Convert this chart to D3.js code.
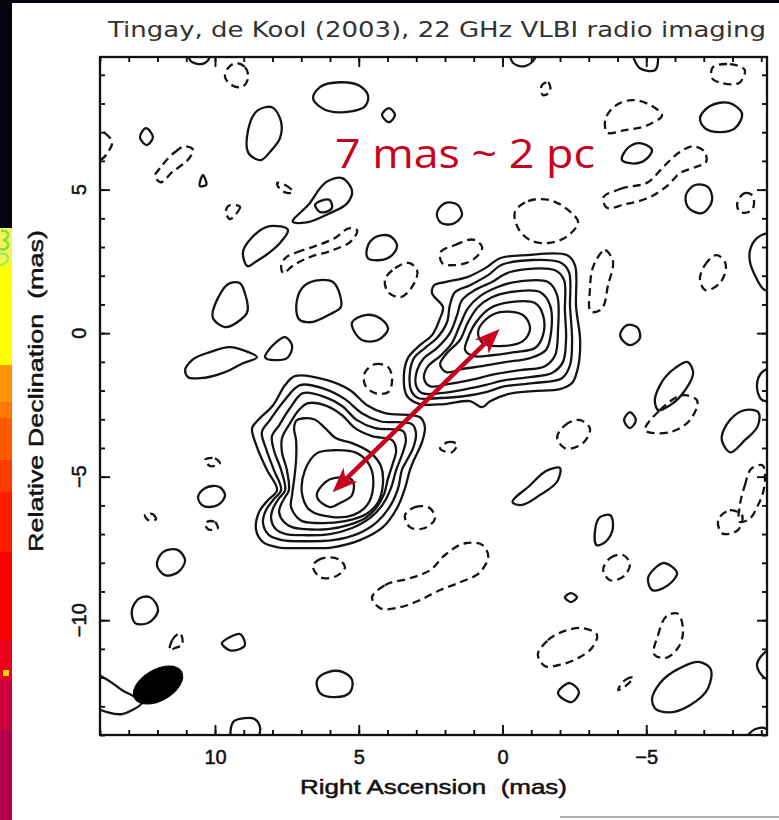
<!DOCTYPE html>
<html><head><meta charset="utf-8">
<script src="https://cdn.jsdelivr.net/npm/d3@7"></script>
<style>body{margin:0;background:#fff;}svg{display:block}</style>
</head><body><svg id="c" width="779" height="820"></svg>
<script>
// ---------- data (mas) ----------
const raDomain = [14.0, -9.2];
const decDomain = [-14.0, 9.62];
const xMajorTicks = [10, 5, 0, -5];
const xMajorLabels = ["10", "5", "0", "\u22125"];
const yMajorTicks = [5, 0, -5, -10];
const yMajorLabels = ["5", "0", "\u22125", "\u221210"];
const xMinorTicks = [14,13,12,11,10,9,8,7,6,5,4,3,2,1,0,-1,-2,-3,-4,-5,-6,-7,-8,-9];
const yMinorTicks = [9,8,7,6,5,4,3,2,1,0,-1,-2,-3,-4,-5,-6,-7,-8,-9,-10,-11,-12,-13,-14];

const titleText = "Tingay, de Kool (2003), 22 GHz VLBI radio imaging";
const scaleText = "7 mas ~ 2 pc";
const xTitle = "Right Ascension  (mas)";
const yTitle = "Relative Declination  (mas)";

// north-east (core) component, outer -> inner
const neCore = [
 [[0.09,2.61],[-0.85,2.72],[-2.24,2.72],[-2.52,2.37],[-2.56,0.91],[-2.70,-0.24],[-2.63,-1.18],[-2.42,-1.74],[-2.00,-1.95],[-1.06,-2.02],[-0.16,-2.13],[0.43,-2.37],[0.71,-2.58],[1.13,-2.37],[2.00,-2.47],[2.87,-2.47],[3.32,-2.19],[3.43,-1.46],[3.29,-0.87],[2.87,-0.42],[2.45,-0.07],[2.17,0.52],[2.07,0.91],[2.45,1.39],[2.38,1.67],[2.00,1.78],[1.23,1.95],[0.54,2.30]],
 [[-0.02,2.40],[-2.00,2.47],[-2.31,2.13],[-2.35,0.91],[-2.42,-0.24],[-2.35,-1.11],[-2.07,-1.57],[-1.06,-1.74],[-0.09,-1.85],[0.61,-2.06],[1.30,-2.19],[2.17,-2.26],[2.94,-2.26],[3.18,-1.99],[3.22,-1.36],[3.08,-0.87],[2.70,-0.52],[2.28,-0.17],[1.93,0.38],[1.83,0.98],[1.65,1.43],[1.13,1.67],[0.50,2.02]],
 [[-0.26,2.13],[-1.83,2.19],[-2.14,1.85],[-2.17,0.80],[-2.21,-0.24],[-2.10,-1.01],[-1.72,-1.39],[-0.96,-1.53],[-0.09,-1.64],[0.61,-1.81],[1.48,-1.99],[2.17,-2.09],[2.80,-2.09],[3.01,-1.81],[2.97,-1.29],[2.73,-0.87],[2.28,-0.52],[1.83,0.00],[1.58,0.63],[1.41,1.15],[0.96,1.50],[0.37,1.78]],
 [[-0.43,1.78],[-1.58,1.78],[-1.90,1.32],[-1.93,0.10],[-1.83,-0.77],[-1.48,-1.15],[-0.61,-1.29],[0.26,-1.43],[1.13,-1.64],[1.90,-1.78],[2.52,-1.85],[2.73,-1.57],[2.59,-1.15],[2.17,-0.80],[1.76,-0.35],[1.48,0.28],[1.20,0.87],[0.78,1.29],[0.19,1.60]],
 [[-0.26,1.43],[-1.30,1.43],[-1.65,0.98],[-1.69,0.03],[-1.51,-0.59],[-0.96,-0.87],[-0.09,-1.01],[0.71,-1.15],[1.41,-1.25],[1.96,-1.36],[2.17,-1.08],[1.90,-0.66],[1.48,-0.24],[1.20,0.38],[0.85,0.91],[0.37,1.25]],
 [[-0.26,1.08],[-1.13,1.05],[-1.41,0.63],[-1.41,-0.07],[-1.13,-0.52],[-0.43,-0.66],[0.37,-0.77],[0.99,-0.80],[1.30,-0.59],[1.20,-0.17],[0.92,0.38],[0.43,0.87]],
 [[0.09,0.73],[-0.71,0.63],[-0.96,0.17],[-0.71,-0.28],[0.09,-0.45],[0.68,-0.35],[0.85,0.03],[0.61,0.45]]
];

// south-west component, outer -> inner
const swCore = [
 [[7.22,-1.50],[6.10,-1.64],[5.30,-1.99],[4.71,-2.51],[4.09,-2.79],[2.87,-2.93],[2.70,-3.27],[2.80,-3.80],[3.08,-4.42],[3.22,-4.77],[3.39,-5.40],[3.67,-6.10],[4.16,-6.76],[4.96,-7.21],[5.90,-7.46],[6.87,-7.49],[7.81,-7.46],[8.33,-7.28],[8.57,-6.86],[8.47,-6.24],[8.16,-5.82],[7.84,-5.47],[8.19,-4.77],[8.54,-3.97],[8.71,-3.31],[8.50,-3.03],[7.98,-2.51],[7.56,-1.81]],
 [[7.04,-1.81],[6.17,-1.95],[5.48,-2.30],[4.89,-2.79],[4.26,-3.07],[3.15,-3.17],[3.01,-3.48],[3.11,-4.01],[3.36,-4.49],[3.50,-4.77],[3.63,-5.40],[3.91,-6.03],[4.37,-6.58],[5.06,-7.00],[5.90,-7.21],[6.87,-7.25],[7.67,-7.21],[8.12,-7.04],[8.33,-6.62],[8.23,-6.17],[7.95,-5.78],[7.70,-5.47],[7.95,-4.77],[8.23,-4.01],[8.37,-3.45],[8.09,-3.03],[7.63,-2.40]],
 [[6.94,-2.09],[6.17,-2.23],[5.58,-2.54],[5.06,-3.03],[4.43,-3.31],[3.46,-3.41],[3.36,-3.73],[3.50,-4.25],[3.70,-4.77],[3.88,-5.40],[4.16,-5.96],[4.57,-6.41],[5.23,-6.79],[6.00,-7.00],[6.94,-7.04],[7.53,-7.00],[7.88,-6.83],[8.05,-6.45],[7.98,-6.10],[7.77,-5.75],[7.56,-5.47],[7.70,-4.77],[7.95,-4.08],[8.02,-3.59],[7.77,-3.21],[7.39,-2.61]],
 [[6.76,-2.44],[6.10,-2.54],[5.58,-2.86],[5.13,-3.31],[4.54,-3.59],[3.84,-3.73],[3.70,-4.08],[3.81,-4.53],[3.98,-5.05],[4.12,-5.61],[4.40,-6.10],[4.78,-6.45],[5.37,-6.69],[6.07,-6.83],[6.87,-6.83],[7.32,-6.76],[7.60,-6.58],[7.77,-6.24],[7.70,-5.96],[7.56,-5.71],[7.43,-5.47],[7.50,-4.77],[7.67,-4.15],[7.67,-3.66],[7.39,-3.14],[7.08,-2.68]],
 [[7.15,-3.03],[6.56,-3.00],[6.17,-3.31],[5.79,-3.66],[5.23,-3.83],[4.61,-4.15],[4.23,-4.63],[4.16,-5.26],[4.33,-5.89],[4.75,-6.31],[5.48,-6.55],[6.28,-6.62],[6.97,-6.55],[7.18,-6.38],[7.36,-6.03],[7.32,-5.64],[7.25,-5.12],[7.18,-4.42],[7.18,-3.73],[7.25,-3.31]],
 [[6.87,-4.77],[6.45,-4.18],[5.90,-4.08],[5.06,-4.18],[4.61,-4.63],[4.50,-5.37],[4.71,-5.99],[5.20,-6.34],[5.90,-6.41],[6.70,-6.17],[6.97,-5.61]],
 [[6.45,-5.57],[6.00,-5.09],[5.23,-5.12],[5.23,-5.64],[5.65,-5.92],[6.00,-6.06],[6.42,-5.78]]
];

// isolated positive (solid) contours
const positiveIslands = [
 [[10.89,9.86],[10.87,9.51],[10.52,9.37],[10.24,9.51],[10.17,9.86]],
 [[6.35,8.57],[5.65,8.74],[4.96,8.61],[4.68,8.29],[4.75,7.94],[5.48,7.70],[6.28,7.84],[6.59,8.19]],
 [[4.19,7.60],[3.95,7.84],[3.74,7.60],[3.95,7.35]],
 [[8.50,7.77],[8.02,7.87],[7.74,7.49],[7.74,6.79],[8.09,6.31],[8.40,6.03],[8.78,6.20],[8.85,7.07]],
 [[12.61,6.83],[12.40,7.14],[12.16,6.83],[12.37,6.55]],
 [[10.42,5.50],[10.31,5.16],[10.52,5.12]],
 [[7.29,3.87],[6.76,4.46],[6.07,5.30],[5.58,5.40],[5.23,4.91],[5.37,4.56],[6.07,4.15],[6.76,3.87]],
 [[6.52,4.46],[6.00,4.63],[5.93,4.36],[6.35,4.22]],
 [[9.03,2.79],[8.71,3.34],[8.09,3.73],[7.46,3.59],[7.74,3.14],[8.09,2.82],[8.61,2.47],[8.85,2.33]],
 [[4.71,2.96],[4.43,3.34],[3.91,3.38],[3.67,3.07],[3.84,2.72],[4.33,2.54],[4.68,2.61]],
 [[7.04,0.45],[7.15,1.15],[6.87,1.67],[6.35,1.85],[5.90,1.78],[5.65,1.32],[5.62,0.91],[6.00,0.66],[6.70,0.38]],
 [[5.23,0.38],[4.78,0.63],[4.26,0.52],[3.98,0.17],[4.33,-0.24],[4.89,-0.24]],
 [[8.26,-0.84],[7.91,-0.35],[7.56,-0.14],[7.32,-0.42],[7.46,-0.84]],
 [[10.07,0.52],[9.90,1.22],[9.48,1.74],[9.13,1.74],[8.96,1.39],[8.89,0.70],[9.13,0.45],[9.65,0.21]],
 [[11.04,-1.29],[10.80,-0.94],[10.17,-0.66],[9.48,-0.49],[9.03,-0.59],[8.54,-0.84],[9.03,-1.05],[9.65,-1.36],[10.52,-1.57],[10.94,-1.53]],
 [[-0.26,9.86],[-0.37,9.41],[-0.78,9.30],[-1.13,9.58],[-1.20,9.86]],
 [[-4.54,9.86],[-4.78,9.23],[-5.30,9.16],[-5.34,9.86]],
 [[-6.87,7.49],[-7.22,7.91],[-7.91,8.01],[-8.33,7.66],[-8.09,7.14],[-7.56,7.00],[-7.04,7.14]],
 [[-4.16,6.03],[-4.36,6.45],[-4.78,6.62],[-5.20,6.38],[-4.96,6.03],[-4.43,5.92]],
 [[-6.38,4.81],[-6.70,5.16],[-7.15,5.09],[-7.29,4.63],[-6.94,4.18],[-6.45,4.39]],
 [[-8.61,2.89],[-8.85,3.31],[-9.23,3.48],[-9.65,3.41],[-9.65,1.57],[-9.13,1.50],[-8.78,2.02],[-8.61,2.47]],
 [[2.28,4.18],[2.00,4.53],[1.55,4.46],[1.41,4.11],[1.76,3.80],[2.17,3.87]],
 [[-4.09,-0.07],[-4.33,0.28],[-4.68,0.21],[-4.78,-0.17],[-4.43,-0.42]],
 [[-5.30,-2.40],[-5.48,-1.81],[-6.00,-1.22],[-6.45,-1.01],[-6.63,-1.36],[-6.35,-1.99],[-5.83,-2.51],[-5.41,-2.68]],
 [[-8.85,-1.81],[-9.03,-1.36],[-9.30,-1.22],[-9.65,-1.29],[-9.65,-2.26],[-9.03,-2.33]],
 [[-4.23,-3.03],[-4.43,-2.75],[-4.64,-3.03],[-4.43,-3.31]],
 [[-7.63,-3.73],[-7.91,-3.03],[-8.43,-2.68],[-8.89,-2.75],[-8.89,-3.21],[-8.43,-3.73],[-7.91,-4.15]],
 [[-0.37,-5.92],[-0.96,-5.30],[-1.58,-4.77],[-2.00,-4.70],[-1.93,-5.12],[-1.30,-5.64],[-0.61,-5.99]],
 [[-3.22,-6.86],[-3.39,-6.41],[-3.74,-6.34],[-3.84,-6.79],[-3.57,-7.28],[-3.29,-7.39]],
 [[10.59,-5.71],[10.35,-5.40],[9.83,-5.37],[9.65,-5.64],[9.90,-5.99],[10.45,-5.99]],
 [[12.02,-8.08],[11.81,-7.63],[11.29,-7.56],[11.04,-7.91],[11.29,-8.33],[11.74,-8.43]],
 [[-5.06,-8.54],[-5.30,-8.19],[-5.58,-8.01],[-6.07,-8.36],[-5.76,-8.78],[-5.20,-8.95]],
 [[-2.17,-9.20],[-2.38,-9.06],[-2.59,-9.20],[-2.38,-9.37]],
 [[-5.20,-12.78],[-5.48,-12.19],[-6.17,-11.67],[-6.87,-11.46],[-7.22,-11.67],[-7.15,-12.37],[-6.52,-12.96],[-5.83,-13.21],[-5.30,-13.07]],
 [[-1.93,-12.54],[-2.35,-12.19],[-2.66,-12.51],[-2.42,-12.85]],
 [[-8.85,-11.57],[-9.13,-11.12],[-9.65,-10.97],[-9.65,-12.16],[-9.13,-12.02]],
 [[-8.43,-14.18],[-8.78,-13.80],[-9.13,-13.76],[-9.37,-14.18]],
 [[12.89,-9.65],[12.61,-9.23],[12.26,-9.20],[11.98,-9.65],[12.33,-10.10],[12.78,-10.10]],
 [[9.76,-10.80],[9.48,-10.59],[9.13,-10.48],[8.96,-10.87],[9.48,-11.05]],
 [[14.35,-11.81],[13.72,-12.09],[13.23,-12.44],[12.78,-12.68],[12.54,-12.85],[12.89,-13.14],[13.23,-13.27],[13.72,-13.21],[14.35,-12.89]],
 [[6.45,-12.09],[6.07,-11.81],[5.55,-11.81],[5.23,-12.09],[5.30,-12.51],[5.83,-12.68],[6.35,-12.54]],
 [[9.41,-14.18],[9.34,-13.52],[8.96,-13.41],[8.61,-13.45],[8.43,-13.76],[8.57,-14.18]]
];

// negative (dashed) contours
const negativeIslands = [
 [[9.30,9.41],[8.96,9.27],[8.85,8.88],[9.06,8.57],[9.41,8.64],[9.65,8.92],[9.55,9.23]],
 [[11.91,5.75],[11.39,6.31],[11.04,6.51],[10.76,6.38],[10.87,6.13],[11.49,5.61],[11.91,5.26],[12.09,5.47]],
 [[7.84,5.23],[7.56,5.16],[7.29,4.91],[7.46,4.88],[7.74,5.02]],
 [[9.55,4.42],[9.13,4.39],[9.27,4.15],[9.48,3.97],[9.62,4.22]],
 [[7.56,2.61],[7.15,2.82],[6.52,3.03],[5.83,3.31],[5.30,3.66],[5.06,3.59],[5.23,3.24],[5.90,2.89],[6.70,2.65],[7.32,2.33],[7.63,2.09],[7.70,2.33]],
 [[4.09,1.85],[3.74,2.26],[3.22,2.44],[2.97,2.19],[3.11,1.67],[3.57,1.25],[3.98,1.43]],
 [[4.78,-1.36],[4.43,-1.08],[3.98,-1.18],[3.84,-1.64],[3.98,-2.06],[4.43,-2.09],[4.78,-1.81]],
 [[-1.37,8.64],[-1.58,8.74],[-1.65,8.40],[-1.41,8.29]],
 [[-7.29,9.23],[-7.91,9.37],[-8.43,9.16],[-8.26,8.74],[-7.63,8.71],[-7.29,8.88]],
 [[-3.57,7.42],[-3.91,7.91],[-4.50,8.12],[-5.20,7.91],[-5.55,7.60],[-5.06,7.25],[-4.26,7.07],[-3.63,7.00]],
 [[-3.50,4.70],[-4.09,5.02],[-5.06,5.26],[-5.65,5.85],[-6.17,6.31],[-6.63,6.51],[-7.04,6.31],[-7.08,5.96],[-6.70,5.78],[-6.17,5.57],[-5.76,5.16],[-5.13,4.74],[-4.26,4.49],[-3.60,4.39]],
 [[-8.16,4.46],[-8.43,4.88],[-8.68,4.81],[-8.68,4.29],[-8.26,4.22]],
 [[-0.43,4.22],[-0.89,4.60],[-1.65,4.63],[-2.28,4.29],[-2.63,3.87],[-2.35,3.45],[-1.58,3.14],[-0.96,3.24],[-0.54,3.66]],
 [[2.17,2.79],[1.65,3.07],[0.96,3.24],[0.71,3.00],[0.96,2.61],[1.65,2.37],[2.10,2.44]],
 [[-3.22,2.47],[-3.57,2.89],[-3.81,2.61],[-3.67,1.67],[-3.39,0.80],[-3.11,0.73],[-3.04,1.50]],
 [[-6.87,1.85],[-7.04,2.37],[-7.46,2.72],[-7.74,2.47],[-7.56,1.74],[-7.04,1.50]],
 [[-4.96,-3.38],[-5.48,-2.68],[-6.35,-2.16],[-6.76,-2.33],[-6.52,-3.03],[-5.83,-3.45]],
 [[-8.26,-5.99],[-8.43,-5.30],[-8.68,-4.70],[-9.03,-4.60],[-9.13,-5.12],[-8.89,-5.99],[-8.54,-6.51],[-8.26,-6.58]],
 [[-7.50,-6.51],[-7.91,-6.17],[-8.33,-6.34],[-8.19,-6.86],[-7.63,-6.97]],
 [[4.54,-9.23],[4.09,-8.78],[3.22,-8.54],[2.52,-8.26],[2.00,-7.73],[1.30,-7.32],[0.68,-7.39],[0.50,-7.73],[0.78,-8.33],[1.48,-8.68],[2.17,-8.95],[2.87,-9.30],[3.57,-9.55],[4.26,-9.58]],
 [[-3.50,-8.26],[-3.74,-7.84],[-4.19,-7.73],[-4.43,-8.01],[-4.26,-8.43],[-3.74,-8.61]],
 [[-1.23,-11.22],[-1.58,-10.70],[-2.24,-10.35],[-2.80,-10.28],[-3.29,-10.52],[-3.11,-10.97],[-2.63,-11.32],[-1.93,-11.57],[-1.48,-11.60]],
 [[-5.30,-11.22],[-5.41,-10.52],[-5.76,-9.82],[-6.07,-9.76],[-6.28,-10.35],[-6.10,-10.97],[-5.65,-11.32]],
 [[-4.02,-12.44],[-4.26,-12.09],[-4.54,-11.99],[-4.36,-12.23]],
 [[6.59,-8.08],[6.42,-7.91],[5.65,-7.91],[5.48,-8.15],[5.72,-8.43],[6.35,-8.50]],
 [[11.56,-11.05],[11.49,-10.70],[11.22,-10.45],[11.15,-10.87],[11.39,-10.97]],
 [[3.39,-6.34],[3.04,-6.06],[2.52,-6.10],[2.35,-6.45],[2.70,-6.79],[3.22,-6.76]],
 [[-1.90,-3.66],[-2.17,-3.21],[-2.70,-3.03],[-3.04,-3.31],[-2.80,-3.83],[-2.17,-4.01]],
 [[2.17,-4.01],[1.90,-3.80],[1.58,-3.87],[1.76,-4.15]],
 [[14.35,7.14],[13.83,6.97],[13.58,6.65],[13.72,6.31],[14.00,6.03],[14.35,6.10]],
 [[10.35,-4.42],[10.00,-4.36],[9.83,-4.53],[10.17,-4.63]],
 [[12.44,-6.34],[12.16,-6.31],[12.05,-6.48],[12.33,-6.51]],
 [[10.35,-6.62],[10.00,-6.58],[9.90,-6.79],[10.24,-6.83]]
];

// restoring beam: centre (ra, dec), semi-axes (mas), position angle (deg)
const beamCentre = [11.98, -12.26];
const beamAxes = [0.94, 0.54];
const beamAngle = 30;

// separation arrow between components (ra, dec)
const arrowEnds = [[5.91, -5.54], [0.10, 0.14]];

// strip of a colour bar at the left edge of the picture
const stripColors = ["#f6f25a","#ffff00","#ffff00","#ff9400","#ff7800","#ff5a00","#ff3c00","#ff1e00","#ff0000","#e8001c","#cc003c","#b2004c"];
const stripStops = [228,262,300,365,402,418,460,492,552,640,680,730,820];

// ---------- drawing ----------
const svg = d3.select('#c');
const plot = {l:100, r:767, t:57, b:735};
const x = d3.scaleLinear().domain(raDomain).range([plot.l, plot.r]);
const y = d3.scaleLinear().domain(decDomain).range([plot.b, plot.t]);
const defs = svg.append('defs');
const axisFont = 'Liberation Sans, Arial, sans-serif';

// page decorations
svg.append('rect').attr('x',0).attr('y',0).attr('width',779).attr('height',3).attr('fill','#05050f');
svg.append('rect').attr('x',0).attr('y',0).attr('width',12).attr('height',228).attr('fill','#05050f');
stripColors.forEach((c,i)=>{
  svg.append('rect').attr('x',0).attr('y',stripStops[i]).attr('width',12)
     .attr('height',stripStops[i+1]-stripStops[i]).attr('fill',c);
});
svg.append('path').attr('d','M1,231 Q9,230 8,236 Q7,240 3,240 Q9,241 8,246 Q6,251 0,249')
   .attr('fill','none').attr('stroke','#7ee03c').attr('stroke-width',2.4);
svg.append('path').attr('d','M0,254 Q7,252 8,258 Q8,264 0,265')
   .attr('fill','none').attr('stroke','#a6e860').attr('stroke-width',2.4);
svg.append('rect').attr('x',3).attr('y',670).attr('width',6).attr('height',6).attr('fill','#ffd400');
svg.append('rect').attr('x',560).attr('y',816).attr('width',219).attr('height',2).attr('fill','#b0b0b0');

// title
svg.append('text').attr('x',108).attr('y',37).attr('font-family','DejaVu Sans').attr('font-size',22)
   .attr('fill','#333').attr('textLength',658).attr('lengthAdjust','spacingAndGlyphs').text(titleText);

// clip for contours
defs.append('clipPath').attr('id','plotclip').append('rect')
   .attr('x',plot.l).attr('y',plot.t).attr('width',plot.r-plot.l).attr('height',plot.b-plot.t);

const smooth = d3.line().x(d=>x(d[0])).y(d=>y(d[1])).curve(d3.curveCatmullRomClosed.alpha(0.5));
const poly = d3.line().x(d=>x(d[0])).y(d=>y(d[1])).curve(d3.curveCatmullRomClosed.alpha(0.9));

const cg = svg.append('g').attr('clip-path','url(#plotclip)')
  .attr('fill','none').attr('stroke','#141414').attr('stroke-width',2.3).attr('stroke-linejoin','round');

cg.selectAll('path.ne').data(neCore).join('path').attr('class','ne').attr('d',smooth);
cg.selectAll('path.sw').data(swCore).join('path').attr('class','sw').attr('d',smooth);
cg.selectAll('path.pos').data(positiveIslands).join('path').attr('class','pos').attr('d',poly);
cg.selectAll('path.neg').data(negativeIslands).join('path').attr('class','neg').attr('d',poly)
  .attr('stroke-dasharray','8,5');

// beam
const bx = x(beamCentre[0]), by = y(beamCentre[1]);
const brx = Math.abs(x(0) - x(beamAxes[0])), bry = Math.abs(y(0) - y(beamAxes[1]));
cg.append('ellipse').attr('cx',bx).attr('cy',by).attr('rx',brx).attr('ry',bry)
  .attr('transform',`rotate(${-beamAngle},${bx},${by})`).attr('fill','#000').attr('stroke','#000').attr('stroke-width',1);

// axes (inward ticks on all four sides)
function addAxis(axis, tr){
  const g = svg.append('g').attr('transform',tr).call(axis);
  g.select('.domain').remove();
  g.selectAll('line').attr('stroke','#111').attr('stroke-width',1.9);
  return g;
}
addAxis(d3.axisBottom(x).tickValues(xMinorTicks).tickSize(-5).tickFormat(''), `translate(0,${plot.b})`);
addAxis(d3.axisTop(x).tickValues(xMinorTicks).tickSize(-5).tickFormat(''), `translate(0,${plot.t})`);
addAxis(d3.axisLeft(y).tickValues(yMinorTicks).tickSize(-5).tickFormat(''), `translate(${plot.l},0)`);
addAxis(d3.axisRight(y).tickValues(yMinorTicks).tickSize(-5).tickFormat(''), `translate(${plot.r},0)`);
const xb = addAxis(d3.axisBottom(x).tickValues(xMajorTicks).tickSize(-10).tickPadding(15)
  .tickFormat(d=>xMajorLabels[xMajorTicks.indexOf(d)]), `translate(0,${plot.b})`);
xb.selectAll('text').attr('font-family',axisFont).attr('font-size',20).attr('fill','#111')
  .attr('stroke','#111').attr('stroke-width',0.5);
addAxis(d3.axisTop(x).tickValues(xMajorTicks).tickSize(-10).tickFormat(''), `translate(0,${plot.t})`);
addAxis(d3.axisLeft(y).tickValues(yMajorTicks).tickSize(-10).tickFormat(''), `translate(${plot.l},0)`);
addAxis(d3.axisRight(y).tickValues(yMajorTicks).tickSize(-10).tickFormat(''), `translate(${plot.r},0)`);

svg.selectAll('text.ylab').data(yMajorTicks).join('text').attr('class','ylab')
  .attr('transform',d=>`translate(86,${y(d)}) rotate(-90)`).attr('text-anchor','middle')
  .attr('font-family',axisFont).attr('font-size',20).attr('fill','#111')
  .attr('stroke','#111').attr('stroke-width',0.5)
  .text((d,i)=>yMajorLabels[i]);

svg.append('rect').attr('x',plot.l).attr('y',plot.t).attr('width',plot.r-plot.l).attr('height',plot.b-plot.t)
  .attr('fill','none').attr('stroke','#111').attr('stroke-width',2.3);

// axis titles
svg.append('text').attr('x',300).attr('y',794).attr('font-family',axisFont)
  .style('white-space','pre').attr('stroke','#111').attr('stroke-width',0.5)
  .attr('font-size',21).attr('fill','#111').attr('textLength',267).attr('lengthAdjust','spacingAndGlyphs').text(xTitle);
svg.append('text').attr('transform','translate(43,552) rotate(-90)').attr('font-family',axisFont)
  .style('white-space','pre').attr('stroke','#111').attr('stroke-width',0.5)
  .attr('font-size',21).attr('fill','#111').attr('textLength',322).attr('lengthAdjust','spacingAndGlyphs').text(yTitle);

// scale annotation
const red = '#c8001e';
svg.append('text').attr('x',335).attr('y',168).attr('font-family','Open Sans, Noto Sans, sans-serif')
  .attr('font-size',40).attr('fill',red).attr('textLength',260).attr('lengthAdjust','spacingAndGlyphs').text(scaleText);

// double-headed arrow
const p1 = [x(arrowEnds[0][0]), y(arrowEnds[0][1])];
const p2 = [x(arrowEnds[1][0]), y(arrowEnds[1][1])];
const dx = p2[0]-p1[0], dy = p2[1]-p1[1], len = Math.hypot(dx,dy);
const u = [dx/len, dy/len], n = [-u[1], u[0]];
const L = 25, Wd = 10;
svg.append('line').attr('x1',p1[0]+u[0]*16).attr('y1',p1[1]+u[1]*16)
  .attr('x2',p2[0]-u[0]*16).attr('y2',p2[1]-u[1]*16).attr('stroke',red).attr('stroke-width',4.5);
function head(tip, dir){
  const b = [tip[0]-dir[0]*L, tip[1]-dir[1]*L];
  const m = [tip[0]-dir[0]*L*0.72, tip[1]-dir[1]*L*0.72];
  const pts = [tip, [b[0]+n[0]*Wd, b[1]+n[1]*Wd], m, [b[0]-n[0]*Wd, b[1]-n[1]*Wd]];
  svg.append('path').attr('d','M'+pts.map(p=>p.join(',')).join('L')+'Z').attr('fill',red);
}
head(p2, u);
head(p1, [-u[0], -u[1]]);
</script></body></html>
